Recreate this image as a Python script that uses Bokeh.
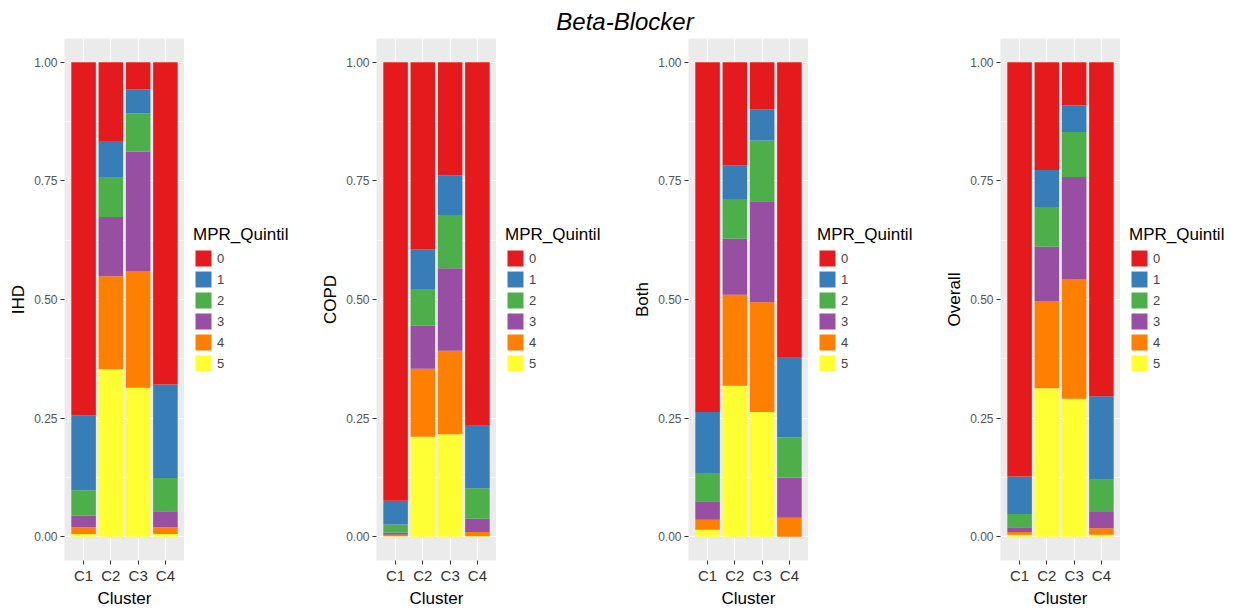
from bokeh.plotting import figure
from bokeh.models import (FactorRange, Range1d, FixedTicker, PrintfTickFormatter,
                          Legend, LegendItem, Label, ColumnDataSource)
from bokeh.layouts import column, row
from bokeh.embed import file_html
from bokeh.resources import INLINE

# ---------------- data ----------------
clusters = ["C1", "C2", "C3", "C4"]
quintiles = ["0", "1", "2", "3", "4", "5"]
colors = ["#E41A1C", "#377EB8", "#4DAF4A", "#984EA3", "#FF7F00", "#FFFF33"]
title_text = "Beta-Blocker"
legend_title = "MPR_Quintil"
x_title = "Cluster"
panel_titles = ["IHD", "COPD", "Both", "Overall"]
y_ticks = [0.0, 0.25, 0.5, 0.75, 1.0]
y_minor = [0.125, 0.375, 0.625, 0.875]

# shares of each MPR quintile per cluster (C1..C4)
ihd_q0 = [0.744, 0.166, 0.057, 0.679]
ihd_q1 = [0.158, 0.076, 0.051, 0.197]
ihd_q2 = [0.053, 0.084, 0.080, 0.070]
ihd_q3 = [0.025, 0.125, 0.252, 0.034]
ihd_q4 = [0.014, 0.196, 0.246, 0.014]
ihd_q5 = [0.006, 0.353, 0.314, 0.006]

copd_q0 = [0.924, 0.394, 0.238, 0.766]
copd_q1 = [0.050, 0.084, 0.084, 0.132]
copd_q2 = [0.017, 0.077, 0.112, 0.064]
copd_q3 = [0.005, 0.091, 0.174, 0.028]
copd_q4 = [0.003, 0.143, 0.176, 0.009]
copd_q5 = [0.001, 0.211, 0.216, 0.001]

both_q0 = [0.737, 0.217, 0.099, 0.623]
both_q1 = [0.130, 0.071, 0.066, 0.168]
both_q2 = [0.058, 0.084, 0.128, 0.084]
both_q3 = [0.039, 0.118, 0.213, 0.085]
both_q4 = [0.021, 0.192, 0.231, 0.040]
both_q5 = [0.015, 0.318, 0.263, 0.000]

overall_q0 = [0.873, 0.227, 0.091, 0.704]
overall_q1 = [0.079, 0.078, 0.056, 0.176]
overall_q2 = [0.028, 0.084, 0.095, 0.068]
overall_q3 = [0.010, 0.114, 0.216, 0.034]
overall_q4 = [0.006, 0.184, 0.251, 0.014]
overall_q5 = [0.004, 0.313, 0.291, 0.004]

panels = [
    (panel_titles[0], [ihd_q0, ihd_q1, ihd_q2, ihd_q3, ihd_q4, ihd_q5]),
    (panel_titles[1], [copd_q0, copd_q1, copd_q2, copd_q3, copd_q4, copd_q5]),
    (panel_titles[2], [both_q0, both_q1, both_q2, both_q3, both_q4, both_q5]),
    (panel_titles[3], [overall_q0, overall_q1, overall_q2, overall_q3, overall_q4, overall_q5]),
]

FONT = "Liberation Sans"


def make_panel(ylabel, shares):
    data = {"cluster": clusters}
    for q, v in zip(quintiles, shares):
        data["q" + q] = v
    src = ColumnDataSource(data)

    p = figure(x_range=FactorRange(factors=clusters, range_padding=0.2,
                                   range_padding_units="absolute"),
               y_range=Range1d(-0.05, 1.05),
               width=184, height=572,
               min_border_left=64, min_border_right=0,
               min_border_top=0, min_border_bottom=48,
               toolbar_location=None, output_backend="svg",
               background_fill_color="#EBEBEB", border_fill_color="white",
               outline_line_color=None)

    stack_order = ["q5", "q4", "q3", "q2", "q1", "q0"]
    fills = [colors[5], colors[4], colors[3], colors[2], colors[1], colors[0]]
    p.vbar_stack(stack_order, x="cluster", width=0.9, source=src,
                 fill_color=fills, line_color=None)

    # grid
    p.xgrid.grid_line_color = "white"
    p.xgrid.grid_line_width = 1.2
    p.ygrid.grid_line_color = "white"
    p.ygrid.grid_line_width = 1.2
    p.ygrid.minor_grid_line_color = "white"
    p.ygrid.minor_grid_line_width = 0.6

    # axes
    p.yaxis.ticker = FixedTicker(ticks=y_ticks, minor_ticks=y_minor)
    p.yaxis.formatter = PrintfTickFormatter(format="%.2f")
    p.axis.axis_line_color = None
    p.axis.major_tick_line_color = "#333333"
    p.axis.major_tick_out = 4
    p.axis.major_tick_in = 0
    p.axis.minor_tick_line_color = None
    p.yaxis.major_label_text_font = FONT
    p.yaxis.major_label_text_font_size = "12px"
    p.yaxis.major_label_text_color = "#555555"
    p.yaxis.major_label_standoff = 3
    p.xaxis.major_label_text_font = FONT
    p.xaxis.major_label_text_font_size = "15px"
    p.xaxis.major_label_text_color = "#333333"
    p.xaxis.major_label_standoff = 2

    p.yaxis.axis_label = ylabel
    p.xaxis.axis_label = x_title
    for ax in (p.xaxis[0], p.yaxis[0]):
        ax.axis_label_text_font = FONT
        ax.axis_label_text_font_size = "17px"
        ax.axis_label_text_font_style = "normal"
        ax.axis_label_text_color = "black"
    p.xaxis.axis_label_standoff = 2
    p.yaxis.axis_label_standoff = 3

    # legend in its own narrow figure next to the panel (hidden proxy renderers)
    lf = figure(width=128, height=572, x_range=Range1d(0, 1), y_range=Range1d(0, 1),
                min_border_left=0, min_border_right=0, min_border_top=0,
                min_border_bottom=48, toolbar_location=None, output_backend="svg",
                outline_line_color=None, background_fill_color="white",
                border_fill_color="white")
    lf.axis.visible = False
    lf.grid.visible = False
    items = []
    for q, c in zip(quintiles, colors):
        r = lf.vbar(x=[0.5], top=[0.5], width=0.5, fill_color=c, line_color=None)
        r.visible = False
        items.append(LegendItem(label=q, renderers=[r]))
    legend = Legend(items=items, title=legend_title, location="center_left",
                    title_text_font=FONT, title_text_font_size="17px",
                    title_text_font_style="normal", title_text_color="black",
                    title_standoff=3,
                    label_text_font=FONT, label_text_font_size="13px",
                    label_text_color="#444444",
                    glyph_width=20, glyph_height=20, label_height=20,
                    label_standoff=4, spacing=1, padding=8, margin=9,
                    inactive_fill_alpha=0,
                    border_line_color=None, background_fill_alpha=0)
    lf.add_layout(legend)
    return [p, lf]


figs = []
for lbl, sh in panels:
    figs.extend(make_panel(lbl, sh))

t = figure(width=1249, height=38, x_range=Range1d(0, 1), y_range=Range1d(0, 1),
           toolbar_location=None, output_backend="svg", min_border=0,
           outline_line_color=None)
t.axis.visible = False
t.grid.visible = False
t.add_layout(Label(x=0.5, y=0.45, text=title_text, text_align="center",
                   text_baseline="middle", text_font=FONT, text_font_size="24px",
                   text_font_style="italic", text_color="black"))

layout = column(t, row(*figs))
open("out.html", "w").write(file_html(layout, INLINE))
